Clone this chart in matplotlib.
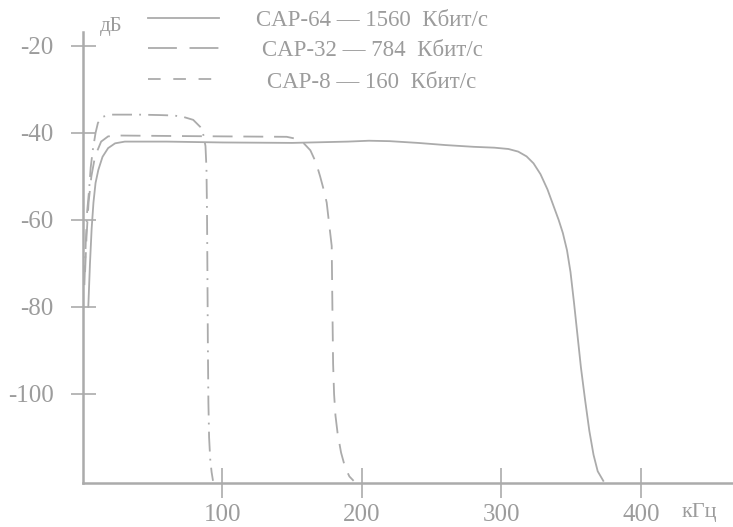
import matplotlib
matplotlib.use("Agg")
import matplotlib.pyplot as plt
from matplotlib.lines import Line2D

plt.rcParams["font.family"] = ["Liberation Serif", "DejaVu Serif"]
plt.rcParams["axes.unicode_minus"] = False

GRAY = "#ababab"
TEXT = "#9c9c9c"

# CAP-64, 1560 kbit/s (solid)
cap64_f = [3.8, 5.0, 6.2, 7.5, 9.0, 11.0, 14.0, 18.0, 23.0, 30.0, 60.0, 100.0, 150.0,
           190.0, 205.0, 220.0, 240.0, 260.0, 280.0, 295.0, 305.0, 312.0, 318.0, 323.0,
           328.0, 333.0, 337.0, 341.0, 344.0, 347.0, 349.5, 352.0, 354.5, 357.0, 360.0,
           363.0, 366.0, 369.0, 373.0]
cap64_db = [-80.0, -70.0, -62.0, -56.0, -51.5, -48.5, -45.5, -43.5, -42.4, -42.0, -42.0,
            -42.2, -42.3, -42.0, -41.8, -41.9, -42.3, -42.8, -43.2, -43.4, -43.7, -44.3,
            -45.4, -47.0, -49.5, -53.0, -56.5, -60.0, -63.0, -67.0, -72.0, -79.0, -86.5,
            -94.0, -101.5, -108.5, -114.0, -117.8, -120.0]

# CAP-32, 784 kbit/s (long dashes)
cap32_f = [1.5, 2.5, 4.0, 6.0, 8.0, 9.5, 13.0, 18.0, 25.0, 60.0, 100.0, 146.0, 152.0,
           158.0, 163.0, 167.0, 170.0, 172.5, 174.7, 177.0, 178.3, 178.8, 179.3, 180.0,
           181.0, 182.5, 185.0, 188.0, 191.0, 194.0]
cap32_db = [-72.0, -64.0, -56.0, -50.0, -46.5, -44.7, -42.0, -40.8, -40.6, -40.7, -40.8,
            -40.9, -41.3, -42.3, -44.0, -46.8, -50.0, -53.0, -56.0, -62.4, -66.0, -80.0,
            -93.0, -100.0, -105.0, -109.0, -113.5, -117.0, -119.0, -120.0]

# CAP-8, 160 kbit/s (short dashes in the key, dash-dot on the plot)
cap8_f = [1.0, 2.0, 3.0, 4.4, 5.5, 7.0, 9.0, 10.7, 14.0, 20.0, 40.0, 55.0, 65.0, 71.7,
          79.0, 84.0, 86.0, 87.8, 88.5, 88.9, 89.2, 89.5, 89.9, 90.4, 91.2, 92.2, 93.2]
cap8_db = [-75.0, -65.0, -58.0, -53.0, -48.0, -44.0, -40.0, -37.7, -36.3, -35.8, -35.8,
           -35.9, -36.0, -36.3, -37.0, -38.6, -40.0, -43.0, -48.0, -58.0, -72.0, -88.0,
           -102.0, -110.0, -115.0, -118.0, -120.0]

y_ticks = [-20, -40, -60, -80, -100]
x_ticks = [100, 200, 300, 400]

legend_labels = ["CAP-64 — 1560  Кбит/с", "CAP-32 — 784  Кбит/с", "CAP-8 — 160  Кбит/с"]

W, H = 733, 527
LW = 1.3
fig = plt.figure(figsize=(W / 100, H / 100), dpi=100)
ax = fig.add_axes([83 / W, (H - 483) / H, 650 / W, 451 / H])

ax.plot(cap64_f, cap64_db, color=GRAY, lw=LW)
ax.plot(cap32_f, cap32_db, color=GRAY, lw=LW, dashes=(11, 6))
ax.plot(cap8_f, cap8_db, color=GRAY, lw=LW, dashes=(11, 4, 1, 4))

ax.set_xlim(0, 466)
ax.set_ylim(-120.5, -16.8)

for s in ["top", "right"]:
    ax.spines[s].set_visible(False)
for s in ["left", "bottom"]:
    ax.spines[s].set_color(GRAY)
    ax.spines[s].set_linewidth(1.8)

ax.set_xticks(x_ticks)
ax.set_yticks(y_ticks)
ax.tick_params(axis="y", direction="inout", length=18, width=1.2, color=GRAY,
               labelcolor=TEXT, labelsize=18, pad=12)
ax.tick_params(axis="x", direction="inout", length=22, width=1.2, color=GRAY,
               labelcolor=TEXT, labelsize=18, pad=4)

# axis unit labels
fig.text(100 / W, 1 - 27 / H, "дБ", color=TEXT, fontsize=15, ha="left", va="center")
fig.text(682 / W, 1 - 513 / H, "кГц", color=TEXT, fontsize=16, ha="left", va="center")

# hand-placed key at the top
styles = [dict(), dict(dashes=(16, 7)), dict(dashes=(7, 7))]
rows_y = [21, 51, 82]
for lab, st, yy in zip(legend_labels, styles, rows_y):
    fig.add_artist(Line2D([148 / W, 219 / W], [1 - (yy - 3) / H, 1 - (yy - 3) / H],
                          transform=fig.transFigure, color=GRAY, lw=LW, **st))
    fig.text(372 / W, 1 - yy / H, lab, color=TEXT, fontsize=16.5, ha="center", va="center")

fig.savefig("out.png", dpi=100)
